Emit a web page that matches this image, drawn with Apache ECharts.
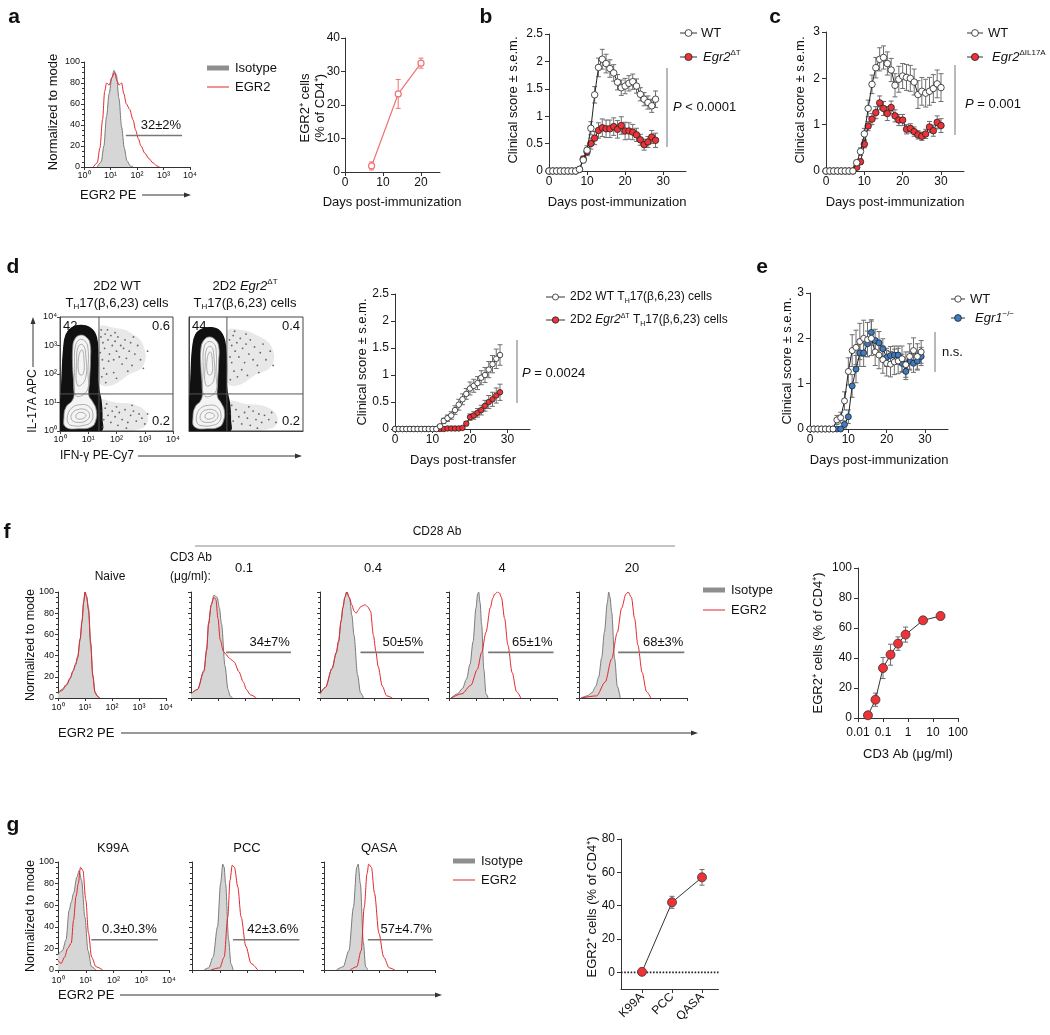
<!DOCTYPE html>
<html>
<head>
<meta charset="utf-8">
<title>EGR2 figure</title>
<script src="https://cdn.jsdelivr.net/npm/echarts@6.0.0/dist/echarts.min.js"></script>
<style>
html,body{margin:0;padding:0;background:#ffffff;}
#chart{width:1050px;height:1035px;}
</style>
</head>
<body>
<div id="chart"></div>
<script>
/* ================= DATA ================= */
// Panel a
const aHistIso = [[0.5,0],[0.65,5],[0.75,20],[0.85,48],[0.95,70],[1.05,85],[1.13,92],[1.22,88],[1.32,65],[1.42,38],[1.52,18],[1.62,6],[1.75,1],[1.85,0]];
const aHistEgr2 = [[0.35,0],[0.5,4],[0.6,18],[0.7,45],[0.78,72],[0.85,80],[0.95,78],[1.05,85],[1.15,90],[1.25,82],[1.32,78],[1.42,80],[1.5,70],[1.6,60],[1.72,55],[1.85,45],[1.95,35],[2.05,27],[2.15,20],[2.3,13],[2.45,8],[2.6,4],[2.75,1],[2.85,0]];
const aGateX = [1.58, 3.7];
const aGateY = 30;
const aGateText = '32±2%';
const aDays = [7, 14, 20];
const aPct = [1.8, 23.3, 32.5];
const aSem = [1.2, 4.3, 1.5];

// Panel b
const bDays = [0,1,2,3,4,5,6,7,8,9,10,11,12,13,14,15,16,17,18,19,20,21,22,23,24,25,26,27,28];
const bWT = [0,0,0,0,0,0,0,0,0.03,0.2,0.38,0.78,1.39,1.89,2.04,1.96,1.87,1.79,1.62,1.52,1.55,1.6,1.63,1.55,1.4,1.31,1.25,1.19,1.31];
const bWTsem = [0,0,0,0,0,0,0,0,0.02,0.05,0.08,0.12,0.15,0.17,0.18,0.17,0.16,0.15,0.14,0.14,0.14,0.14,0.14,0.13,0.12,0.12,0.12,0.12,0.15];
const bKO = [0,0,0,0,0,0,0,0,0.03,0.22,0.35,0.5,0.6,0.74,0.79,0.77,0.77,0.81,0.76,0.83,0.73,0.73,0.71,0.66,0.57,0.48,0.53,0.62,0.56];
const bKOsem = [0,0,0,0,0,0,0,0,0.02,0.05,0.07,0.1,0.12,0.14,0.16,0.16,0.16,0.16,0.16,0.16,0.16,0.15,0.14,0.12,0.1,0.1,0.1,0.12,0.13];

// Panel c
const cDays = [0,1,2,3,4,5,6,7,8,9,10,11,12,13,14,15,16,17,18,19,20,21,22,23,24,25,26,27,28,29,30];
const cWT = [0,0,0,0,0,0,0,0,0.18,0.42,0.8,1.35,1.87,2.23,2.41,2.45,2.32,2.18,1.85,1.98,2.05,2.02,2.0,1.92,1.65,1.72,1.68,1.72,1.78,1.88,1.8];
const cWTsem = [0,0,0,0,0,0,0,0,0.05,0.08,0.12,0.18,0.2,0.22,0.25,0.25,0.25,0.25,0.25,0.28,0.27,0.28,0.28,0.28,0.3,0.3,0.3,0.3,0.3,0.3,0.3];
const cKO = [0,0,0,0,0,0,0,0,0.08,0.2,0.58,0.97,1.12,1.26,1.47,1.35,1.24,1.37,1.19,1.1,1.1,0.9,0.92,0.85,0.78,0.75,0.8,0.95,0.87,1.05,0.98];
const cKOsem = [0,0,0,0,0,0,0,0,0.03,0.06,0.08,0.1,0.12,0.13,0.15,0.15,0.15,0.14,0.13,0.12,0.12,0.1,0.1,0.1,0.09,0.09,0.1,0.12,0.12,0.14,0.15];

// Panel d (clinical, adoptive transfer)
const dDays = [0,1,2,3,4,5,6,7,8,9,10,11,12,13,14,15,16,17,18,19,20,21,22,23,24,25,26,27,28];
const dWT = [0,0,0,0,0,0,0,0,0,0,0,0,0.05,0.15,0.2,0.25,0.35,0.45,0.55,0.65,0.75,0.8,0.85,0.95,1.0,1.1,1.2,1.3,1.37];
const dWTsem = [0,0,0,0,0,0,0,0,0,0,0,0,0.03,0.05,0.06,0.07,0.08,0.1,0.1,0.1,0.12,0.12,0.12,0.13,0.14,0.15,0.16,0.18,0.19];
const dKO = [0,0,0,0,0,0,0,0,0,0,0,0,0,0,0.01,0.01,0.01,0.01,0.02,0.1,0.22,0.25,0.3,0.35,0.43,0.5,0.55,0.62,0.68];
const dKOsem = [0,0,0,0,0,0,0,0,0,0,0,0,0,0,0,0,0.01,0.01,0.02,0.04,0.06,0.07,0.08,0.09,0.1,0.12,0.13,0.14,0.15];

// Panel d (flow plots, log decades)
const flowGate1 = [1.38, 1.3];
const flowGate2 = [1.33, 1.3];
const flow1Outer = [[0.02,0],[0.02,0.9],[0.05,1.3],[0.08,2.0],[0.13,2.85],[0.22,3.38],[0.42,3.62],[0.75,3.7],[1.08,3.6],[1.28,3.3],[1.34,2.6],[1.34,1.75],[1.38,1.4],[1.45,1.05],[1.48,0.45],[1.42,0]];
const flow1Inner = [[0.2,0.14],[0.14,0.5],[0.22,0.85],[0.42,1.05],[0.5,1.3],[0.45,2.2],[0.45,2.9],[0.52,3.22],[0.7,3.36],[0.92,3.3],[1.06,3.08],[1.08,2.5],[1.04,1.7],[1.02,1.25],[1.14,1.05],[1.28,0.75],[1.26,0.35],[1.1,0.14],[0.7,0.08]];
const flow1Levels = [
  [[0.55,1.25],[0.52,2.2],[0.54,2.95],[0.68,3.2],[0.88,3.16],[0.99,2.9],[0.99,2.1],[0.95,1.4]],
  [[0.62,1.6],[0.59,2.4],[0.64,2.95],[0.8,3.03],[0.91,2.7],[0.89,1.8]],
  [[0.68,2.0],[0.66,2.6],[0.78,2.85],[0.85,2.5],[0.82,2.0]],
  [[0.3,0.26],[0.27,0.55],[0.43,0.82],[0.7,0.92],[1.0,0.88],[1.16,0.62],[1.08,0.3],[0.8,0.19],[0.5,0.18]],
  [[0.42,0.38],[0.42,0.6],[0.62,0.75],[0.92,0.74],[1.05,0.55],[0.92,0.36],[0.65,0.3]],
  [[0.58,0.45],[0.6,0.6],[0.78,0.65],[0.92,0.55],[0.8,0.43]]
];
const flow1Cloud = [[[1.4,1.7],[1.4,3.62],[1.9,3.62],[2.5,3.45],[2.95,3.0],[2.95,2.3],[2.4,1.95],[1.8,1.6]],[[1.4,0.05],[1.4,1.05],[2.0,1.0],[2.7,0.9],[3.1,0.55],[2.9,0.1]]];
const flow1Dots = [[1.45,3.3],[1.52,3.1],[1.6,3.4],[1.58,2.9],[1.7,3.2],[1.75,2.7],[1.8,3.35],[1.85,3.0],[1.9,2.5],[1.95,3.15],[2.0,2.8],[2.05,3.3],[2.1,2.6],[2.15,3.0],[2.2,2.35],[2.25,2.9],[2.3,3.2],[2.35,2.55],[2.45,2.8],[2.5,3.1],[2.55,2.3],[2.65,2.7],[2.75,3.0],[2.85,2.5],[1.5,2.5],[1.55,2.2],[1.65,2.0],[1.72,2.45],[1.48,1.9],[1.62,1.7],[1.9,2.05],[2.0,1.85],[2.4,2.1],[3.1,2.8],[1.42,2.75],[1.46,3.55],[1.68,3.55],[1.95,3.45],[2.6,3.3],[2.95,2.2],[1.45,0.7],[1.55,0.4],[1.6,0.8],[1.7,0.55],[1.8,0.3],[1.85,0.7],[1.95,0.5],[2.05,0.2],[2.1,0.65],[2.2,0.4],[2.3,0.75],[2.4,0.3],[2.5,0.55],[2.6,0.7],[2.7,0.35],[2.8,0.6],[2.9,0.45],[3.0,0.25],[1.5,0.15],[1.65,0.95],[2.0,0.85],[2.35,0.1],[2.55,0.9],[3.1,0.6]];
const flow2Outer = [[0.02,0],[0.02,0.9],[0.05,1.35],[0.08,2.1],[0.13,2.9],[0.24,3.38],[0.48,3.58],[0.8,3.62],[1.08,3.5],[1.25,3.15],[1.31,2.4],[1.31,1.6],[1.35,1.3],[1.42,0.95],[1.45,0.4],[1.4,0]];
const flow2Inner = [[0.2,0.14],[0.14,0.5],[0.22,0.85],[0.4,1.05],[0.47,1.3],[0.42,2.2],[0.42,2.9],[0.52,3.18],[0.7,3.3],[0.9,3.22],[1.04,2.98],[1.04,2.4],[1.0,1.6],[1.0,1.2],[1.12,1.0],[1.24,0.72],[1.2,0.32],[1.05,0.14],[0.7,0.08]];
const flow2Levels = [
  [[0.53,1.25],[0.5,2.2],[0.52,2.9],[0.66,3.13],[0.86,3.08],[0.95,2.85],[0.95,2.0],[0.92,1.35]],
  [[0.6,1.6],[0.57,2.4],[0.62,2.88],[0.78,2.96],[0.87,2.65],[0.86,1.75]],
  [[0.66,2.0],[0.64,2.55],[0.75,2.78],[0.82,2.45],[0.8,2.0]],
  [[0.3,0.26],[0.27,0.55],[0.41,0.8],[0.68,0.9],[0.97,0.86],[1.12,0.6],[1.04,0.3],[0.78,0.19],[0.5,0.18]],
  [[0.42,0.38],[0.42,0.6],[0.6,0.74],[0.9,0.72],[1.02,0.54],[0.9,0.36],[0.64,0.3]],
  [[0.58,0.45],[0.6,0.6],[0.76,0.64],[0.9,0.54],[0.78,0.43]]
];
const flow2Cloud = [[[1.35,1.7],[1.35,3.5],[1.8,3.55],[2.4,3.35],[2.9,2.95],[2.9,2.3],[2.3,1.95],[1.7,1.6]],[[1.35,0.05],[1.35,1.0],[2.0,0.95],[2.7,0.85],[3.1,0.5],[2.9,0.1]]];
const flow2Dots = [[1.42,3.2],[1.5,3.0],[1.55,3.35],[1.62,2.8],[1.68,3.1],[1.75,2.6],[1.8,3.25],[1.88,2.9],[1.95,2.4],[2.0,3.05],[2.1,2.7],[2.15,3.2],[2.25,2.5],[2.3,2.95],[2.4,2.3],[2.5,2.75],[2.6,3.05],[2.7,2.5],[2.85,2.8],[1.5,2.4],[1.58,2.1],[1.7,1.9],[1.45,1.8],[1.85,2.15],[2.05,1.95],[2.45,2.05],[1.44,2.6],[1.6,3.5],[2.0,3.4],[2.95,2.3],[1.45,0.6],[1.55,0.35],[1.65,0.75],[1.75,0.5],[1.85,0.25],[1.95,0.65],[2.05,0.45],[2.15,0.2],[2.25,0.7],[2.35,0.4],[2.45,0.6],[2.55,0.3],[2.65,0.55],[2.8,0.4],[2.9,0.65],[3.05,0.3],[1.5,0.9],[2.1,0.85],[2.4,0.1]];
const flow1Quad = ['42', '0.6', '0.2'];
const flow2Quad = ['44', '0.4', '0.2'];

// Panel e
const eDays = [0,1,2,3,4,5,6,7,8,9,10,11,12,13,14,15,16,17,18,19,20,21,22,23,24,25,26,27,28,29];
const eWT = [0,0,0,0,0,0,0,0.2,0.25,0.62,1.27,1.73,1.8,1.93,2.0,1.97,2.0,1.7,1.63,1.53,1.45,1.43,1.48,1.5,1.55,1.42,1.6,1.73,1.6,1.7];
const eWTsem = [0,0,0,0,0,0,0,0.1,0.12,0.2,0.3,0.35,0.38,0.4,0.4,0.38,0.38,0.3,0.3,0.3,0.28,0.28,0.28,0.28,0.28,0.28,0.28,0.28,0.28,0.25];
const eKO = [0,0,0,0,0,0,0,0,0,0.1,0.27,0.95,1.32,1.68,1.68,1.88,2.13,1.95,1.9,1.77,1.58,1.62,1.63,1.63,1.45,1.27,1.5,1.45,1.5,1.6];
const eKOsem = [0,0,0,0,0,0,0,0,0,0.08,0.15,0.25,0.3,0.3,0.3,0.28,0.28,0.25,0.25,0.22,0.2,0.2,0.2,0.2,0.2,0.18,0.2,0.2,0.2,0.2];

// Panel f histograms (x in decades 10^0..10^4, y % of mode)
const fConds = ['Naive', '0.1', '0.4', '4', '20'];
const fNaiveIso = [[0,4],[0.15,7],[0.32,12],[0.45,18],[0.56,25],[0.65,31],[0.73,38],[0.82,55],[0.89,72],[0.95,90],[1.0,100],[1.06,96],[1.13,85],[1.21,53],[1.29,22],[1.37,6],[1.45,2],[1.53,0]];
const fNaiveEgr2 = [[0,5],[0.15,8],[0.32,13],[0.45,19],[0.56,26],[0.65,32],[0.73,39],[0.82,56],[0.89,73],[0.95,91],[1.0,100],[1.06,95],[1.13,83],[1.21,50],[1.29,20],[1.37,5],[1.45,2],[1.55,0]];
const f01Iso = [[0,4],[0.24,8],[0.48,25],[0.58,45],[0.65,70],[0.75,88],[0.85,97],[0.97,95],[1.05,85],[1.13,70],[1.26,30],[1.37,8],[1.45,2],[1.53,0]];
const f01Egr2 = [[0,4],[0.24,8],[0.48,26],[0.58,46],[0.65,70],[0.75,88],[0.85,95],[0.92,93],[1.0,75],[1.08,55],[1.2,44],[1.3,41],[1.4,38],[1.5,36],[1.6,34],[1.77,25],[1.94,15],[2.05,8],[2.2,3],[2.42,0]];
const f04Iso = [[0,4],[0.2,10],[0.45,28],[0.6,42],[0.69,53],[0.78,72],[0.85,85],[0.92,95],[0.98,100],[1.1,94],[1.18,78],[1.26,59],[1.39,22],[1.5,5],[1.61,0]];
const f04Egr2 = [[0,4],[0.2,10],[0.45,28],[0.6,43],[0.69,54],[0.78,73],[0.85,86],[0.92,95],[1.0,100],[1.08,95],[1.18,88],[1.26,82],[1.34,80],[1.42,83],[1.5,86],[1.58,87],[1.66,88],[1.77,86],[1.87,82],[1.98,59],[2.07,44],[2.15,30],[2.31,11],[2.47,2],[2.68,0]];
const f4Iso = [[0.08,0],[0.32,4],[0.5,9],[0.65,18],[0.78,32],[0.89,53],[1.0,85],[1.06,98],[1.1,100],[1.15,90],[1.21,69],[1.29,27],[1.37,4],[1.45,0]];
const f4Egr2 = [[0.08,0],[0.48,4],[0.81,12],[1.05,27],[1.21,43],[1.37,62],[1.53,85],[1.62,94],[1.69,98],[1.8,100],[1.87,99],[1.94,95],[2.06,75],[2.18,50],[2.34,24],[2.5,6],[2.66,0]];
const f20Iso = [[0.08,0],[0.3,2],[0.48,5],[0.62,11],[0.73,20],[0.84,38],[0.94,62],[1.05,90],[1.1,100],[1.15,95],[1.21,81],[1.32,37],[1.42,11],[1.53,0]];
const f20Egr2 = [[0.08,0],[0.65,2],[0.97,15],[1.21,37],[1.42,62],[1.58,85],[1.74,98],[1.82,100],[1.94,95],[2.06,75],[2.18,50],[2.34,24],[2.5,6],[2.66,0]];
const fGateY = 43;
const fGateX = [null, [1.3,3.7], [1.5,3.85], [1.45,3.87], [1.45,3.9]];
const fGateText = [null, '34±7%', '50±5%', '65±1%', '68±3%'];

// Panel f dose response
const fCD3 = [0.025, 0.05, 0.1, 0.2, 0.4, 0.8, 4, 20];
const fPct = [1.8, 12.2, 33.3, 42.2, 49.6, 55.6, 65.1, 68];
const fSem = [0.6, 4.4, 7, 7, 4.5, 5, 1.5, 2.5];
const fTickLabels = ['0.01', '0.1', '1', '10', '100'];

// Panel g histograms
const gConds = ['K99A', 'PCC', 'QASA'];
const gK99AIso = [[0,14],[0.16,18],[0.29,28],[0.4,55],[0.48,63],[0.56,71],[0.68,86],[0.76,92],[0.85,83],[0.97,49],[1.08,18],[1.21,3],[1.37,0]];
const gK99AEgr2 = [[0,9],[0.11,6],[0.24,12],[0.35,20],[0.48,25],[0.56,46],[0.65,68],[0.73,80],[0.81,95],[0.9,92],[1.0,65],[1.1,34],[1.21,12],[1.37,3],[1.61,0]];
const gPCCIso = [[0.44,0],[0.6,2],[0.76,12],[0.92,40],[1.03,80],[1.11,98],[1.16,95],[1.21,80],[1.32,28],[1.4,6],[1.48,0]];
const gPCCEgr2 = [[0.68,0],[1.0,2],[1.16,12],[1.29,49],[1.37,83],[1.45,97],[1.53,95],[1.65,77],[1.77,49],[1.94,22],[2.13,6],[2.37,0]];
const gQASAIso = [[0.45,0],[0.69,3],[0.9,18],[1.06,58],[1.18,95],[1.23,98],[1.31,80],[1.42,25],[1.5,3],[1.58,0]];
const gQASAEgr2 = [[0.94,0],[1.18,3],[1.34,18],[1.45,58],[1.55,89],[1.61,98],[1.71,95],[1.82,71],[1.98,34],[2.15,12],[2.35,2],[2.55,0]];
const gGateY = 28;
const gGateX = [[1.2,3.6], [1.48,3.87], [1.58,3.92]];
const gGateText = ['0.3±0.3%', '42±3.6%', '57±4.7%'];

// Panel g summary
const gPct = [0.3, 42, 57];
const gSem = [0.3, 3.6, 4.7];
const gYTicks = [0, 20, 40, 60, 80];

/* ================= STYLE / BUILD ================= */
const FONT = '"Liberation Sans", Arial, Helvetica, sans-serif';
const RED = '#ee3237', BLUE = '#3d7cc2', PINK = '#f07272', HRED = '#e3262d';
const ISOF = '#d6d6d6', ISOL = '#7a7a7a', ERR = '#6e6e6e';
const SUP = ['⁰','¹','²','³','⁴'];
const decFmt = v => { const r = Math.round(v); return (Math.abs(v - r) < 1e-6 && r >= 0 && r <= 4) ? '10' + SUP[r] : ''; };

const grids = [], xAxes = [], yAxes = [], series = [], graphics = [];

function valAxis(o) {
  const lc = o.lineColor || '#333';
  const a = {
    type: o.type || 'value', min: o.min, max: o.max,
    axisLine: { show: true, onZero: false, lineStyle: { color: lc, width: 1 } },
    axisTick: { show: o.ticks !== false, length: o.tickLen || 4, lineStyle: { color: lc, width: 1 } },
    minorTick: o.minor ? { show: true, splitNumber: o.minor, length: 2, lineStyle: { color: lc, width: 1 } } : { show: false },
    axisLabel: { show: o.labels !== false, fontSize: o.fontSize || 12, fontFamily: FONT, color: '#111', margin: (o.margin == null ? 6 : o.margin), rotate: o.rotate || 0 },
    splitLine: { show: false }
  };
  if (o.interval != null) a.interval = o.interval;
  if (o.logBase) a.logBase = o.logBase;
  if (o.formatter) a.axisLabel.formatter = o.formatter;
  if (o.showMax === false) a.axisLabel.showMaxLabel = false;
  if (o.tickValues) a.axisTick.customValues = o.tickValues;
  if (o.labelValues) a.axisLabel.customValues = o.labelValues;
  return a;
}
function addGrid(rect, xa, ya) {
  const i = grids.length;
  grids.push(Object.assign({ show: false }, rect));
  xa.gridIndex = i; ya.gridIndex = i;
  xAxes.push(xa); yAxes.push(ya);
  return i;
}
function lineSeries(gi, data, o) {
  const s = {
    type: 'line', xAxisIndex: gi, yAxisIndex: gi, data: data, silent: true,
    symbol: o.symbol || 'none', symbolSize: o.size || 0, showSymbol: !!o.symbol,
    smooth: o.smooth || false,
    lineStyle: { color: o.color, width: o.width || 1, type: o.dash || 'solid' },
    z: o.z || 2
  };
  if (o.smooth) s.smoothMonotone = 'x';
  if (o.item) s.itemStyle = o.item;
  if (o.area) s.areaStyle = o.area;
  series.push(s);
}
function errSeries(gi, data, color, z) {
  series.push({
    type: 'custom', xAxisIndex: gi, yAxisIndex: gi, data: data, encode: { x: 0, y: 1 }, silent: true, z: z || 2,
    renderItem: function (params, api) {
      const x = api.value(0), y = api.value(1), e = api.value(2);
      if (!e) return { type: 'group', children: [] };
      const t = api.coord([x, y + e]), b = api.coord([x, y - e]);
      const cw = 2.5, st = { stroke: color, lineWidth: 1 };
      return { type: 'group', children: [
        { type: 'line', shape: { x1: t[0], y1: t[1], x2: b[0], y2: b[1] }, style: st },
        { type: 'line', shape: { x1: t[0] - cw, y1: t[1], x2: t[0] + cw, y2: t[1] }, style: st },
        { type: 'line', shape: { x1: b[0] - cw, y1: b[1], x2: b[0] + cw, y2: b[1] }, style: st }
      ]};
    }
  });
}
function polySeries(gi, polys, st) {
  series.push({
    type: 'custom', xAxisIndex: gi, yAxisIndex: gi, silent: true, clip: true, z: st.z || 2,
    data: polys.map(p => [p[0][0], p[0][1]]), encode: { x: 0, y: 1 },
    renderItem: function (params, api) {
      const pts = polys[params.dataIndex].map(pt => api.coord(pt));
      return { type: 'polygon', shape: { points: pts, smooth: 0.45 }, style: { fill: st.fill, stroke: st.stroke, lineWidth: st.lw || 0.8 } };
    }
  });
}
function histSeries(gi, iso, egr2, gx, gy) {
  lineSeries(gi, iso, { color: ISOL, width: 1, smooth: 0.3, area: { color: ISOF, opacity: 1 }, z: 2 });
  lineSeries(gi, egr2, { color: HRED, width: 1, smooth: 0.3, z: 3 });
  if (gx) lineSeries(gi, [[gx[0], gy], [gx[1], gy]], { color: '#777', width: 1.6, z: 4 });
}
function clinical(gi, days, wt, wtSem, ko, koSem, koColor, size) {
  errSeries(gi, days.map((d, i) => [d, wt[i], wtSem[i]]), ERR, 2);
  errSeries(gi, days.map((d, i) => [d, ko[i], koSem[i]]), ERR, 2);
  lineSeries(gi, days.map((d, i) => [d, ko[i]]), { color: '#222', symbol: 'circle', size: size, item: { color: koColor, borderColor: '#222', borderWidth: 0.8 }, z: 3 });
  lineSeries(gi, days.map((d, i) => [d, wt[i]]), { color: '#222', symbol: 'circle', size: size, item: { color: '#ffffff', borderColor: '#222', borderWidth: 0.8 }, z: 4 });
}
function flowSeries(gi, outer, inner, levels, cloud, dots, gate) {
  polySeries(gi, cloud, { fill: 'rgba(0,0,0,0.09)', stroke: 'none', z: 2 });
  polySeries(gi, [outer], { fill: '#111111', stroke: '#111111', lw: 1.5, z: 2 });
  polySeries(gi, [inner], { fill: '#f4f4f4', stroke: '#8a8a8a', lw: 0.8, z: 3 });
  polySeries(gi, levels, { fill: 'none', stroke: '#9a9a9a', lw: 0.8, z: 4 });
  series.push({ type: 'scatter', xAxisIndex: gi, yAxisIndex: gi, data: dots, symbolSize: 1.8, silent: true, itemStyle: { color: '#444' }, z: 3 });
  lineSeries(gi, [[gate[0], 0], [gate[0], 4]], { color: '#555', width: 1, z: 6 });
  lineSeries(gi, [[0, gate[1]], [4, gate[1]]], { color: '#555', width: 1, z: 6 });
}

/* ---- graphic helpers ---- */
function R(size) {
  const sm = Math.max(6, Math.round(size * 0.6));
  return {
    i: { fontStyle: 'italic', fontSize: size, fontFamily: FONT, fill: '#111' },
    s: { fontSize: sm, fontFamily: FONT, verticalAlign: 'top', fill: '#111' },
    h: { fontSize: sm, fontFamily: FONT, verticalAlign: 'bottom', fill: '#111' }
  };
}
function T(x, y, text, o) {
  o = o || {};
  const size = o.size || 13;
  const el = { type: 'text', x: x, y: y, z: 50, silent: true,
    style: { text: text, fill: o.color || '#111', fontSize: size, fontFamily: FONT, fontWeight: o.weight || 'normal',
      align: o.align || 'left', verticalAlign: 'middle', lineHeight: o.lh || Math.round(size * 1.25), rich: R(size) } };
  if (o.rot) el.rotation = o.rot;
  graphics.push(el);
}
function L(x1, y1, x2, y2, color, w) {
  graphics.push({ type: 'line', z: 50, silent: true, shape: { x1: x1, y1: y1, x2: x2, y2: y2 }, style: { stroke: color || '#333', lineWidth: w || 1 } });
}
function arrowRight(x1, x2, y) {
  L(x1, y, x2 - 5, y, '#333', 1);
  graphics.push({ type: 'polygon', z: 50, silent: true, shape: { points: [[x2, y], [x2 - 7, y - 2.5], [x2 - 7, y + 2.5]] }, style: { fill: '#333' } });
}
function arrowUp(x, y1, y2) {
  L(x, y1, x, y2 + 5, '#333', 1);
  graphics.push({ type: 'polygon', z: 50, silent: true, shape: { points: [[x, y2], [x - 2.5, y2 + 7], [x + 2.5, y2 + 7]] }, style: { fill: '#333' } });
}
function legSym(x1, x2, y, fill, r) {
  L(x1, y, x2, y, '#333', 1);
  graphics.push({ type: 'circle', z: 51, silent: true, shape: { cx: (x1 + x2) / 2, cy: y, r: r }, style: { fill: fill, stroke: '#222', lineWidth: 0.8 } });
}
function histLeg(x, y1, y2) {
  graphics.push({ type: 'rect', z: 50, silent: true, shape: { x: x, y: y1 - 2.5, width: 22, height: 5 }, style: { fill: '#8e8e8e' } });
  L(x, y2, x + 22, y2, HRED, 1);
  T(x + 28, y1, 'Isotype');
  T(x + 28, y2, 'EGR2');
}
const ROT = Math.PI / 2;

/* ================= PANELS ================= */
// ---- a ----
const giAH = addGrid({ left: 84, top: 62, width: 106, height: 105 },
  valAxis({ min: 0, max: 4, interval: 1, fontSize: 9, margin: 4, tickLen: 3, formatter: decFmt }),
  valAxis({ min: 0, max: 100, interval: 20, fontSize: 9, margin: 4, tickLen: 3, minor: 4 }));
histSeries(giAH, aHistIso, aHistEgr2, aGateX, aGateY);

const giAR = addGrid({ left: 345, top: 38, width: 95, height: 134 },
  valAxis({ min: 0, max: 25, interval: 10, showMax: false, margin: 5 }),
  valAxis({ min: 0, max: 40, interval: 10, margin: 5 }));
errSeries(giAR, aDays.map((d, i) => [d, aPct[i], aSem[i]]), PINK, 2);
lineSeries(giAR, aDays.map((d, i) => [d, aPct[i]]), { color: PINK, width: 1.2, symbol: 'circle', size: 6, item: { color: '#ffffff', borderColor: PINK, borderWidth: 1.2 }, z: 3 });

// ---- b ----
const giB = addGrid({ left: 549, top: 34, width: 137, height: 137 },
  valAxis({ min: 0, max: 36, interval: 10, showMax: false, margin: 5 }),
  valAxis({ min: 0, max: 2.5, interval: 0.5 }));
clinical(giB, bDays, bWT, bWTsem, bKO, bKOsem, RED, 6.5);

// ---- c ----
const giC = addGrid({ left: 826, top: 32, width: 138, height: 139 },
  valAxis({ min: 0, max: 36, interval: 10, showMax: false, margin: 5 }),
  valAxis({ min: 0, max: 3, interval: 1 }));
clinical(giC, cDays, cWT, cWTsem, cKO, cKOsem, RED, 6.5);

// ---- d flow ----
const giF1 = addGrid({ left: 60, top: 317, width: 113, height: 114, show: true, borderColor: '#444', borderWidth: 1 },
  valAxis({ min: 0, max: 4, interval: 1, fontSize: 9, margin: 4, tickLen: 3, formatter: decFmt, lineColor: '#444' }),
  valAxis({ min: 0, max: 4, interval: 1, fontSize: 9, margin: 3, tickLen: 3, formatter: decFmt, lineColor: '#444' }));
flowSeries(giF1, flow1Outer, flow1Inner, flow1Levels, flow1Cloud, flow1Dots, flowGate1);
const giF2 = addGrid({ left: 189, top: 317, width: 114, height: 114, show: true, borderColor: '#444', borderWidth: 1 },
  valAxis({ min: 0, max: 4, interval: 1, labels: false, ticks: false, lineColor: '#444' }),
  valAxis({ min: 0, max: 4, interval: 1, labels: false, ticks: false, lineColor: '#444' }));
flowSeries(giF2, flow2Outer, flow2Inner, flow2Levels, flow2Cloud, flow2Dots, flowGate2);

// ---- d clinical ----
const giD = addGrid({ left: 395, top: 294, width: 135, height: 135 },
  valAxis({ min: 0, max: 36, interval: 10, showMax: false, margin: 5 }),
  valAxis({ min: 0, max: 2.5, interval: 0.5 }));
clinical(giD, dDays, dWT, dWTsem, dKO, dKOsem, RED, 5.5);

// ---- e ----
const giE = addGrid({ left: 810, top: 293, width: 138, height: 136 },
  valAxis({ min: 0, max: 36, interval: 10, showMax: false, margin: 5 }),
  valAxis({ min: 0, max: 3, interval: 1 }));
clinical(giE, eDays, eWT, eWTsem, eKO, eKOsem, BLUE, 6);

// ---- f histograms ----
const fIso = [fNaiveIso, f01Iso, f04Iso, f4Iso, f20Iso];
const fEgr2 = [fNaiveEgr2, f01Egr2, f04Egr2, f4Egr2, f20Egr2];
const fLefts = [58, 191, 320, 449, 579];
const fGi = [];
for (let i = 0; i < fConds.length; i++) {
  const gi = addGrid({ left: fLefts[i], top: 592, width: 108, height: 106 },
    valAxis({ min: 0, max: 4, interval: 1, fontSize: 9, margin: 5, tickLen: 3, formatter: decFmt, labels: i === 0 }),
    valAxis({ min: 0, max: 100, interval: 20, fontSize: 9, margin: 4, tickLen: 3, minor: 4, labels: i === 0 }));
  fGi.push(gi);
  histSeries(gi, fIso[i], fEgr2[i], fGateX[i], fGateY);
}

// ---- f dose response ----
const giFR = addGrid({ left: 858, top: 568, width: 100, height: 150 },
  valAxis({ type: 'log', min: 0.01, max: 100, logBase: 10, margin: 9, formatter: v => fTickLabels[Math.round(Math.log10(v)) + 2] }),
  valAxis({ min: 0, max: 100, interval: 20, margin: 6 }));
errSeries(giFR, fCD3.map((x, i) => [x, fPct[i], fSem[i]]), ERR, 2);
lineSeries(giFR, fCD3.map((x, i) => [x, fPct[i]]), { color: '#333', symbol: 'circle', size: 9, item: { color: RED, borderColor: '#333', borderWidth: 0.8 }, z: 3 });

// ---- g histograms ----
const gIso = [gK99AIso, gPCCIso, gQASAIso];
const gEgr2 = [gK99AEgr2, gPCCEgr2, gQASAEgr2];
const gLefts = [58, 192, 324];
const gGi = [];
for (let i = 0; i < gConds.length; i++) {
  const gi = addGrid({ left: gLefts[i], top: 862, width: 111, height: 108 },
    valAxis({ min: 0, max: 4, interval: 1, fontSize: 9, margin: 6, tickLen: 3, formatter: decFmt, labels: i === 0 }),
    valAxis({ min: 0, max: 100, interval: 20, fontSize: 9, margin: 4, tickLen: 3, minor: 4, labels: i === 0 }));
  gGi.push(gi);
  histSeries(gi, gIso[i], gEgr2[i], gGateX[i], gGateY);
}

// ---- g summary ----
const giGR = addGrid({ left: 621, top: 839, width: 97.5, height: 150 },
  valAxis({ min: 0.3, max: 3.55, tickValues: [1, 2, 3], labelValues: [1, 2, 3], rotate: 45, margin: 6, formatter: v => gConds[Math.round(v) - 1] }),
  valAxis({ min: -10, max: 80, tickValues: gYTicks, labelValues: gYTicks, margin: 6 }));
lineSeries(giGR, [[0.3, 0], [3.55, 0]], { color: '#222', width: 1.6, dash: 'dotted', z: 2 });
errSeries(giGR, gConds.map((c, i) => [i + 1, gPct[i], gSem[i]]), ERR, 3);
lineSeries(giGR, gConds.map((c, i) => [i + 1, gPct[i]]), { color: '#333', symbol: 'circle', size: 9, item: { color: RED, borderColor: '#333', borderWidth: 0.8 }, z: 4 });

/* ================= TEXT & ANNOTATIONS ================= */
// panel letters
T(14, 17, 'a', { size: 21, weight: 'bold', align: 'center' });
T(486, 17, 'b', { size: 21, weight: 'bold', align: 'center' });
T(775, 17, 'c', { size: 21, weight: 'bold', align: 'center' });
T(13, 267, 'd', { size: 21, weight: 'bold', align: 'center' });
T(762, 267, 'e', { size: 21, weight: 'bold', align: 'center' });
T(7, 532, 'f', { size: 21, weight: 'bold', align: 'center' });
T(13, 825, 'g', { size: 21, weight: 'bold', align: 'center' });

// a
T(53, 112, 'Normalized to mode', { align: 'center', rot: ROT });
T(80, 195, 'EGR2 PE');
arrowRight(142, 191, 195);
histLeg(207, 68, 87);
T(313, 108, 'EGR2⁺ cells\n(% of CD4⁺)', { align: 'center', rot: ROT, lh: 15 });
T(392, 202, 'Days post-immunization', { align: 'center' });

// b
T(513, 100, 'Clinical score ± s.e.m.', { align: 'center', rot: ROT });
T(617, 202, 'Days post-immunization', { align: 'center' });
L(667, 68, 667, 147, '#8a8a8a', 1.2);
T(673, 107, '{i|P} < 0.0001');
legSym(680, 697, 33, '#ffffff', 3.4);
T(701, 33, 'WT');
legSym(680, 697, 57, RED, 3.6);
T(703, 57, '{i|Egr2}{s|ΔT}');

// c
T(800, 100, 'Clinical score ± s.e.m.', { align: 'center', rot: ROT });
T(895, 202, 'Days post-immunization', { align: 'center' });
L(955, 65, 955, 135, '#8a8a8a', 1.2);
T(965, 104, '{i|P} = 0.001');
legSym(967, 983, 33, '#ffffff', 3.4);
T(988, 33, 'WT');
legSym(967, 983, 57, RED, 3.6);
T(992, 57, '{i|Egr2}{s|ΔIL17A}');

// d flow
T(117, 286, '2D2 WT', { align: 'center' });
T(117, 303, 'T{h|H}17(β,6,23) cells', { align: 'center' });
T(245, 286, '2D2 {i|Egr2}{s|ΔT}', { align: 'center' });
T(245, 303, 'T{h|H}17(β,6,23) cells', { align: 'center' });
T(63, 326, flow1Quad[0]);
T(170, 326, flow1Quad[1], { align: 'right' });
T(170, 421, flow1Quad[2], { align: 'right' });
T(192, 326, flow2Quad[0]);
T(300, 326, flow2Quad[1], { align: 'right' });
T(300, 421, flow2Quad[2], { align: 'right' });
T(33, 401, 'IL-17A APC', { align: 'center', rot: ROT, size: 12 });
arrowUp(33, 367, 317);
T(60, 456, 'IFN-γ PE-Cy7', { size: 12 });
arrowRight(138, 302, 456);

// d clinical
T(362, 362, 'Clinical score ± s.e.m.', { align: 'center', rot: ROT });
T(463, 460, 'Days post-transfer', { align: 'center' });
L(517, 340, 517, 403, '#8a8a8a', 1.2);
T(522, 373, '{i|P} = 0.0024');
legSym(546, 565, 297, '#ffffff', 3);
T(570, 297, '2D2 WT T{h|H}17(β,6,23) cells', { size: 12 });
legSym(546, 565, 320, RED, 3.2);
T(570, 320, '2D2 {i|Egr2}{s|ΔT} T{h|H}17(β,6,23) cells', { size: 12 });

// e
T(787, 361, 'Clinical score ± s.e.m.', { align: 'center', rot: ROT });
T(879, 460, 'Days post-immunization', { align: 'center' });
L(935, 332, 935, 372, '#8a8a8a', 1.2);
T(942, 352, 'n.s.');
legSym(951, 965, 299, '#ffffff', 3.2);
T(970, 299, 'WT');
legSym(951, 965, 318, BLUE, 3.4);
T(975, 318, '{i|Egr1}{s|−/−}');

// f
T(437, 532, 'CD28 Ab', { align: 'center', size: 12 });
L(195, 546, 675, 546, '#8a8a8a', 1.2);
T(170, 558, 'CD3 Ab', { size: 12 });
T(170, 577, '(μg/ml):', { size: 12 });
T(fLefts[0] + 52, 577, fConds[0], { align: 'center', size: 12 });
for (let i = 1; i < fConds.length; i++) T(fLefts[i] + 53, 568, fConds[i], { align: 'center' });
T(31, 645, 'Normalized to mode', { align: 'center', rot: ROT, size: 12.5 });
T(58, 733, 'EGR2 PE');
arrowRight(121, 698, 733);
histLeg(703, 590, 610);
T(818, 643, 'EGR2⁺ cells (% of CD4⁺)', { align: 'center', rot: ROT });
T(908, 754, 'CD3 Ab (μg/ml)', { align: 'center' });

// g
for (let i = 0; i < gConds.length; i++) T(gLefts[i] + 55, 848, gConds[i], { align: 'center' });
T(31, 916, 'Normalized to mode', { align: 'center', rot: ROT, size: 12.5 });
T(58, 995, 'EGR2 PE');
arrowRight(120, 442, 995);
histLeg(453, 861, 880);
T(592, 907, 'EGR2⁺ cells (% of CD4⁺)', { align: 'center', rot: ROT });

/* ================= RENDER ================= */
const chart = echarts.init(document.getElementById('chart'), null, { renderer: 'canvas', width: 1050, height: 1035 });
chart.setOption({
  animation: false, backgroundColor: '#ffffff',
  textStyle: { fontFamily: FONT },
  grid: grids, xAxis: xAxes, yAxis: yAxes, series: series
});
function gateLabel(gi, x, y, text) {
  const p = chart.convertToPixel({ gridIndex: gi }, [x, y]);
  T(p[0] - 1, p[1] - 10, text, { align: 'right' });
}
gateLabel(giAH, aGateX[1], aGateY, aGateText);
for (let i = 1; i < fConds.length; i++) gateLabel(fGi[i], fGateX[i][1], fGateY, fGateText[i]);
for (let i = 0; i < gConds.length; i++) gateLabel(gGi[i], gGateX[i][1], gGateY, gGateText[i]);
chart.setOption({ graphic: graphics });
</script>
</body>
</html>
